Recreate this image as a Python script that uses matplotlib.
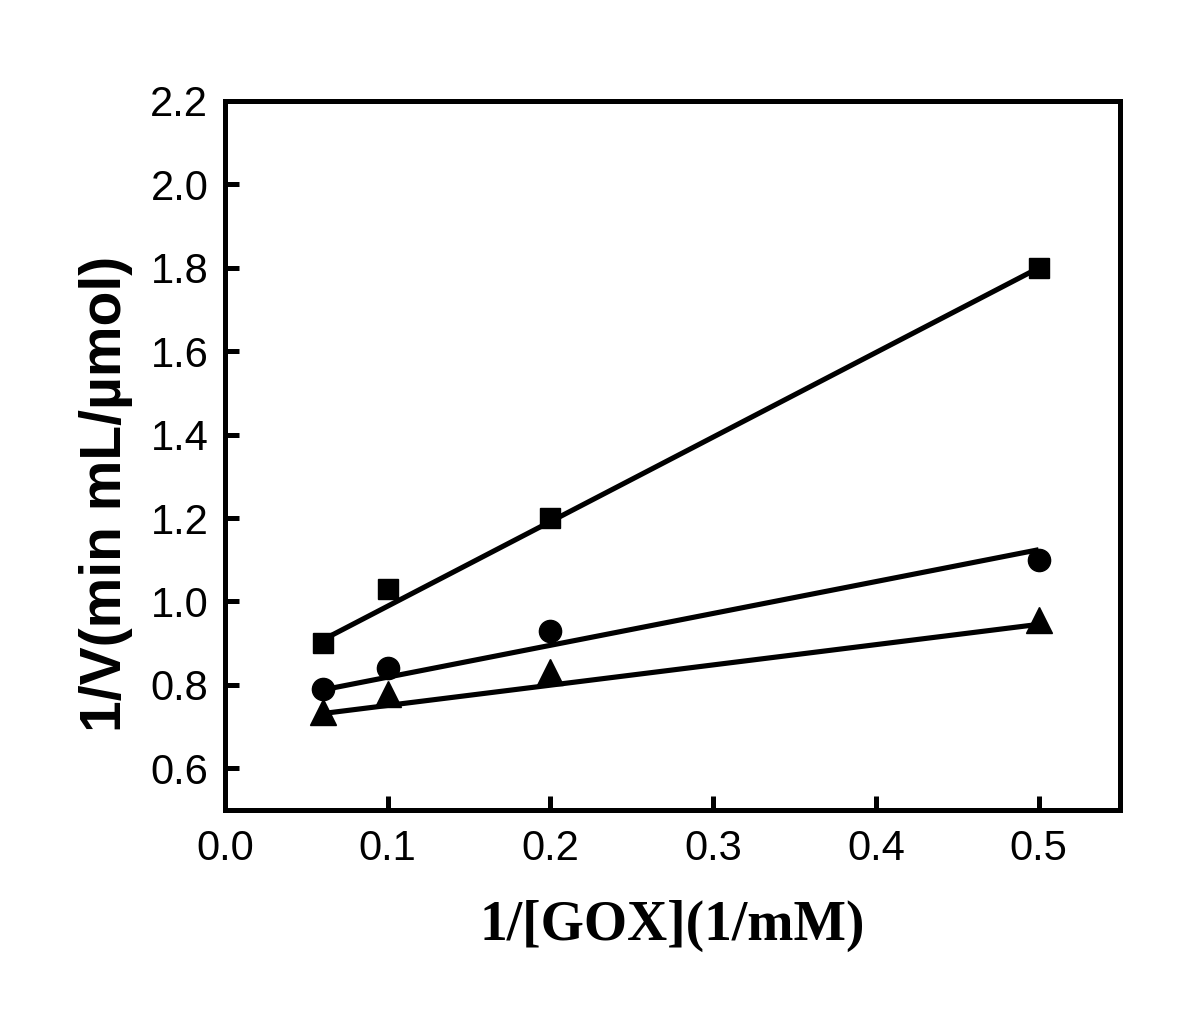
import numpy as np
import matplotlib
matplotlib.use("Agg")
import matplotlib.pyplot as plt

x = [0.06, 0.1, 0.2, 0.5]
sq_y = [0.90, 1.03, 1.20, 1.80]
ci_y = [0.79, 0.84, 0.93, 1.10]
tr_y = [0.735, 0.778, 0.83, 0.955]
# linear fits (slope, intercept) as drawn in the original
fit_slope = [2.027, 0.764, 0.486]
fit_intercept = [0.786, 0.742, 0.702]
xticks = [0.0, 0.1, 0.2, 0.3, 0.4, 0.5]
yticks = [0.6, 0.8, 1.0, 1.2, 1.4, 1.6, 1.8, 2.0, 2.2]

fig = plt.figure(figsize=(12, 10.25), dpi=100)
ax = fig.add_axes([0.1875, 0.2098, 0.9333 - 0.1875, 0.9015 - 0.2098])

xa = np.array(x)
series = [(sq_y, 's', 15), (ci_y, 'o', 16), (tr_y, '^', 19)]
for (ys, mk, ms), k, b in zip(series, fit_slope, fit_intercept):
    xl = np.array([xa.min(), xa.max()])
    ax.plot(xl, k * xl + b, color='black', lw=3.7, zorder=2, solid_capstyle='butt')
    ax.plot(x, ys, linestyle='none', marker=mk, ms=ms, color='black', zorder=3)

ax.set_xlim(0, 0.55)
ax.set_ylim(0.5, 2.2)
ax.set_xticks(xticks)
ax.set_yticks(yticks)
ax.set_xticklabels([f"{v:.1f}" for v in xticks])
ax.set_yticklabels([f"{v:.1f}" for v in yticks])
for s in ax.spines.values():
    s.set_linewidth(3.6)
ax.tick_params(direction='in', length=10, width=3.6, labelsize=30, top=False, right=False)
ax.tick_params(axis='x', pad=14)
ax.tick_params(axis='y', pad=12)
for lab in ax.get_xticklabels() + ax.get_yticklabels():
    lab.set_fontfamily('Liberation Sans')

ax.set_xlabel('1/[GOX](1/mM)', fontsize=40, fontweight='bold', family='Liberation Serif', labelpad=22)
ax.set_ylabel('1/V(min mL/\u00b5mol)', fontsize=41, fontweight='bold', family='Liberation Sans')
ax.yaxis.set_label_coords(-0.103, 0.4465)

fig.savefig('out.png', dpi=100)
